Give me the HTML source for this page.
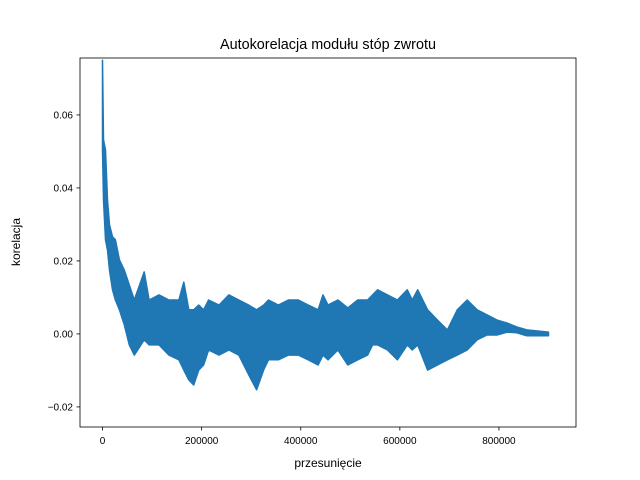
<!DOCTYPE html>
<html><head><meta charset="utf-8"><style>
body{margin:0;background:#fff}
svg{display:block;font-family:"Liberation Sans","DejaVu Sans",sans-serif}
</style></head><body>
<svg id="chart" width="640" height="480">
<rect width="640" height="480" fill="#fff"/>
<text x="328" y="49" font-size="14.4" text-anchor="middle">Autokorelacja modułu stóp zwrotu</text>
<g id="plot"></g>
<g id="axes"></g>
<text x="328" y="467" font-size="12" text-anchor="middle">przesunięcie</text>
<text transform="translate(20,242) rotate(-90)" font-size="12" text-anchor="middle">korelacja</text>
</svg>
<script>
// lag in thousands, envelope of correlation in units of 0.001
const lags=[0,2,6,10,14,20,26,34,44,54,64,84,94,114,134,154,164,174,184,194,204,214,235,255,275,295,311,325,335,355,375,395,415,435,445,455,475,495,515,535,545,555,575,595,615,625,636,656,676,696,716,736,756,776,796,816,836,856,900];
const upper=[75,53.2,50.4,36.7,29.9,26.6,25.8,20.3,17.5,13.4,9.3,17.0,9.3,10.7,9.3,9.3,14.2,6.6,6.6,7.9,6.6,9.3,7.9,10.7,9.3,7.9,6.6,7.9,9.3,7.9,9.3,9.3,7.9,6.6,10.7,7.9,9.3,7.1,9.3,9.3,10.7,12.1,10.7,9.3,12.1,9.3,12.1,6.6,3.8,1.1,6.6,9.3,6.6,5.2,3.8,3.0,1.9,1.1,0.5];
const lower=[50.4,36.7,25.8,23.0,17.5,12.1,9.3,6.6,2.5,-3.0,-5.8,-1.6,-3.0,-3.0,-5.8,-7.1,-9.9,-12.6,-14.0,-9.9,-8.5,-4.4,-5.8,-4.4,-5.8,-11.2,-15.3,-9.9,-7.1,-7.1,-5.8,-5.8,-7.1,-8.5,-5.8,-7.1,-4.4,-8.5,-7.1,-5.8,-3.0,-3.0,-4.4,-7.1,-3.0,-4.4,-3.0,-9.9,-8.5,-7.1,-5.8,-4.4,-1.6,-0.3,-0.3,0.5,0.3,-0.5,-0.5];
const xTicks=[0,200000,400000,600000,800000];
const yTicks=[-0.02,0,0.02,0.04,0.06];
const yTickLabels=["\u22120.02","0.00","0.02","0.04","0.06"];

const L=80,R=576,T=58,B=427;
const xmin=-45500,xmax=955500,ymin=-0.0255,ymax=0.0756;
const X=v=>L+(v-xmin)/(xmax-xmin)*(R-L);
const Y=v=>B-(v-ymin)/(ymax-ymin)*(B-T);
const NS="http://www.w3.org/2000/svg";
const plot=document.getElementById('plot'),axes=document.getElementById('axes');

const clip=document.createElementNS(NS,'clipPath');clip.id='cp';
const cr=document.createElementNS(NS,'rect');
cr.setAttribute('x',L);cr.setAttribute('y',T);cr.setAttribute('width',R-L);cr.setAttribute('height',B-T);
clip.appendChild(cr);plot.appendChild(clip);

let pts=[];
for(let i=0;i<lags.length;i++)pts.push(X(lags[i]*1000).toFixed(1)+','+Y(upper[i]/1000).toFixed(1));
for(let i=lags.length-1;i>=0;i--)pts.push(X(lags[i]*1000).toFixed(1)+','+Y(lower[i]/1000).toFixed(1));
const poly=document.createElementNS(NS,'polygon');


poly.setAttribute('points',pts.join(' '));
poly.setAttribute('fill','#1f77b4');poly.setAttribute('stroke','#1f77b4');
poly.setAttribute('stroke-width','1.5');poly.setAttribute('stroke-linejoin','round');
poly.setAttribute('clip-path','url(#cp)');
plot.appendChild(poly);

const frame=document.createElementNS(NS,'rect');


frame.setAttribute('x',L);frame.setAttribute('y',T);frame.setAttribute('width',R-L);frame.setAttribute('height',B-T);
frame.setAttribute('fill','none');frame.setAttribute('stroke','#000');frame.setAttribute('stroke-width','0.8');
axes.appendChild(frame);

xTicks.forEach(t=>{
  const x=X(t);
  const ln=document.createElementNS(NS,'line');
  
  
  ln.setAttribute('x1',x);ln.setAttribute('x2',x);ln.setAttribute('y1',B);ln.setAttribute('y2',B+3.5);
  ln.setAttribute('stroke','#000');ln.setAttribute('stroke-width','0.8');axes.appendChild(ln);
  const tx=document.createElementNS(NS,'text');
  
  
  tx.setAttribute('x',x);tx.setAttribute('y',B+17);tx.setAttribute('font-size','10');tx.setAttribute('text-anchor','middle');
  tx.textContent=String(t);axes.appendChild(tx);
});
yTicks.forEach((t,i)=>{
  const y=Y(t);
  const ln=document.createElementNS(NS,'line');
  
  
  ln.setAttribute('x1',L-3.5);ln.setAttribute('x2',L);ln.setAttribute('y1',y);ln.setAttribute('y2',y);
  ln.setAttribute('stroke','#000');ln.setAttribute('stroke-width','0.8');axes.appendChild(ln);
  const tx=document.createElementNS(NS,'text');
  
  
  tx.setAttribute('x',L-7);tx.setAttribute('y',y+3.5);tx.setAttribute('font-size','10');tx.setAttribute('text-anchor','end');
  tx.textContent=yTickLabels[i];axes.appendChild(tx);
});
</script>
</body></html>
